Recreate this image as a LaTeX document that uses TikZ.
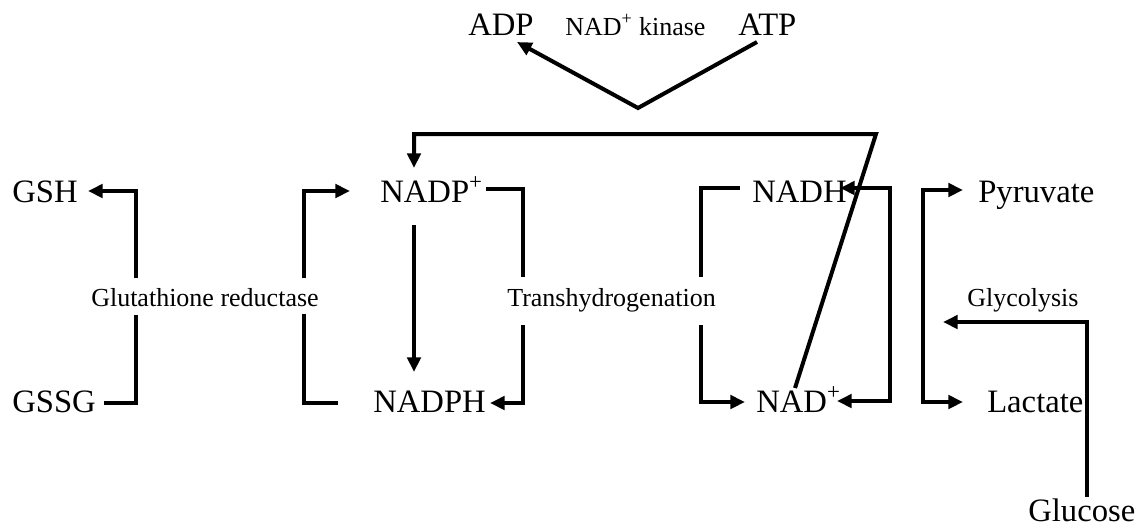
\documentclass[tikz,border=0pt]{standalone}
\usepackage{fontspec}
\setmainfont{Liberation Serif}
\usetikzlibrary{arrows.meta}
\begin{document}
\begin{tikzpicture}[x=0.75pt,y=-0.75pt,
  big/.style={font=\fontsize{24.5}{28}\selectfont,inner sep=0pt,anchor=base west},
  small/.style={font=\fontsize{19.5}{23}\selectfont,inner sep=0pt,anchor=base west},
  ln/.style={line width=3pt,line cap=butt,line join=miter},
  arr/.style={ln,-{Triangle[length=11pt,width=10pt]}},
  arrr/.style={ln,{Triangle[length=11pt,width=10pt]}-{Triangle[length=11pt,width=10pt]}}]
\useasboundingbox (0,0) rectangle (1141,526);

% text nodes
\node[big] (adp) at (468,35) {ADP};
\node[small] (kin) at (565,35) {NAD\textsuperscript{+} kinase};
\node[big] (atp) at (738,35) {ATP};
\node[big] (gsh) at (12,202) {GSH};
\node[big] (gssg) at (12,412) {GSSG};
\node[small] (gr) at (91,306) {Glutathione reductase};
\node[big] (nadp) at (380,202) {NADP\textsuperscript{+}};
\node[big] (nadph) at (373,412) {NADPH};
\node[small] (th) at (507,306) {Transhydrogenation};
\node[big] (nadh) at (752,202) {NADH};
\node[big] (nad) at (756,412) {NAD\textsuperscript{+}};
\node[big] (pyr) at (978,202) {Pyruvate};
\node[big] (lac) at (987,412) {Lactate};
\node[small] (gly) at (967,306) {Glycolysis};
\node[big] (glc) at (1028,521) {Glucose};

% connector points
\coordinate (adpT) at (517,42);
\coordinate (kinV) at (638,108);
\coordinate (atpE) at (757,42);
\coordinate (gshT) at (88,191);
\coordinate (grU) at (136,278);
\coordinate (grL) at (136,315);
\coordinate (gssgE) at (104,403);
\coordinate (nadpT) at (350,191);
\coordinate (lbU) at (304,278);
\coordinate (lbL) at (304,314);
\coordinate (nadphW) at (338,403);
\coordinate (nadpB) at (414,225);
\coordinate (nadphT) at (414,372);
\coordinate (nadpE) at (486,189);
\coordinate (thU) at (523,277);
\coordinate (thL) at (523,325);
\coordinate (nadphE) at (490,403);
\coordinate (nadhW) at (740,188);
\coordinate (thU2) at (701,277);
\coordinate (thL2) at (701,325);
\coordinate (nadT) at (745,402);
\coordinate (nadhE) at (840,188);
\coordinate (nadE) at (837,401);
\coordinate (pyrT) at (963,190);
\coordinate (lacT) at (963,402);
\coordinate (glcN) at (1087,497);
\coordinate (glyT) at (943,322);
\coordinate (nadD) at (795,388);
\coordinate (topR) at (876,134);
\coordinate (topL) at (414,134);
\coordinate (nadpN) at (414,168);

% NAD+ kinase
\draw[arr] (atpE) -- (kinV) -- (adpT);
\draw[arr] (nadD) -- (topR) -- (topL) -- (nadpN);

% glutathione reductase
\draw[arr] (grU) |- (gshT);
\draw[ln] (gssgE) -| (grL);
\draw[arr] (lbU) |- (nadpT);
\draw[ln] (nadphW) -| (lbL);
\draw[arr] (nadpB) -- (nadphT);

% transhydrogenation
\draw[ln] (nadpE) -| (thU);
\draw[arr] (thL) |- (nadphE);
\draw[ln] (nadhW) -| (thU2);
\draw[arr] (thL2) |- (nadT);
\draw[arrr] (nadhE) -| (890,401) -- (nadE);

% glycolysis
\draw[arrr] (pyrT) -| (923,402) -- (lacT);
\draw[arr] (glcN) |- (glyT);
\end{tikzpicture}
\end{document}
